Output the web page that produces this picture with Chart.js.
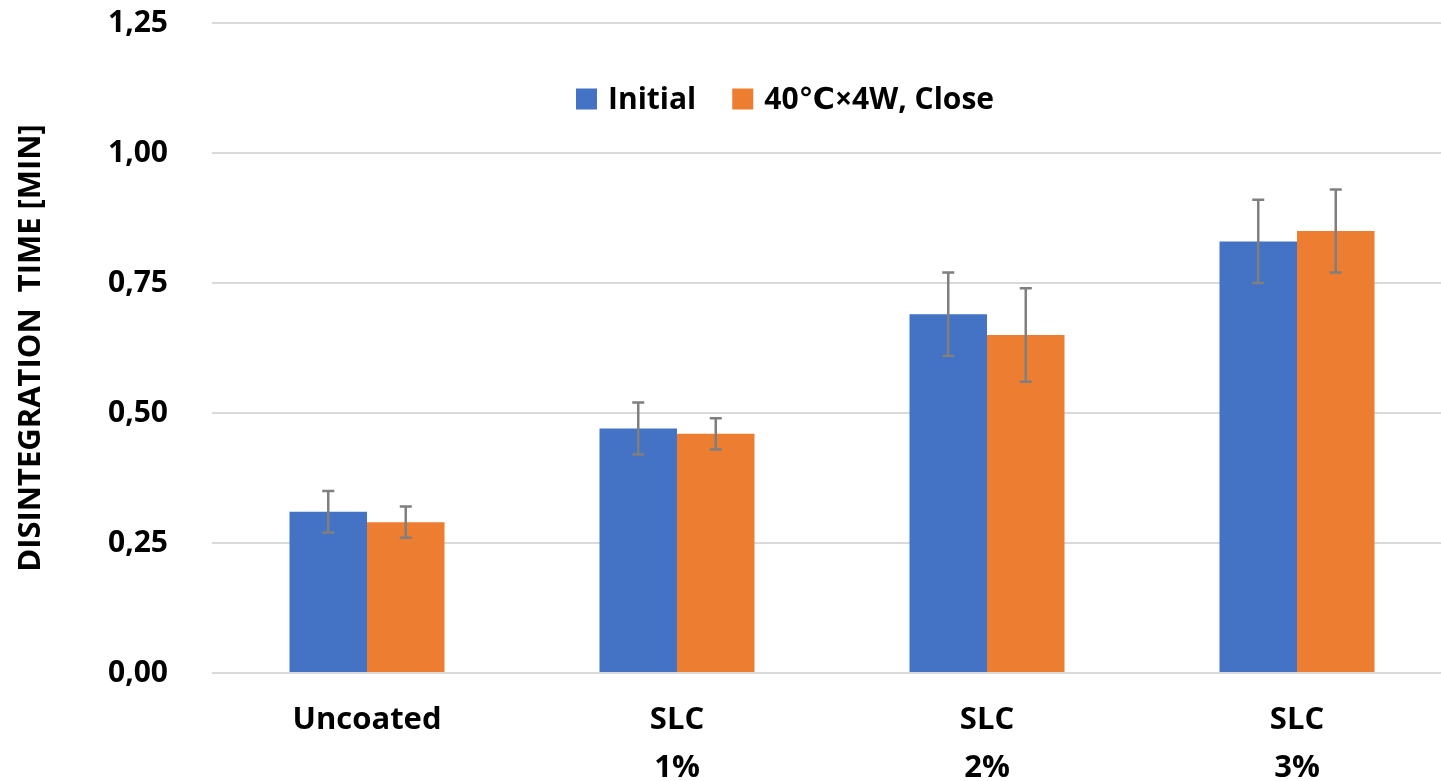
<!DOCTYPE html>
<html>
<head>
<meta charset="utf-8">
<script src="https://cdn.jsdelivr.net/npm/chart.js@4.4.1/dist/chart.umd.min.js"></script>
<style>
  html, body { margin: 0; padding: 0; background: #fff; overflow: hidden; }
  #wrap { width: 1452px; height: 781px; }
</style>
</head>
<body>
<div id="wrap"><canvas id="myBarChart"></canvas></div>
<script>
// dados do gráfico
const categories = [['Uncoated'], ['SLC', '1%'], ['SLC', '2%'], ['SLC', '3%']];
const seriesNames = ['Initial', '40℃×4W, Close'];
const initialValues = [0.31, 0.47, 0.69, 0.83];
const initialErrLow = [0.27, 0.42, 0.61, 0.75];
const initialErrHigh = [0.35, 0.52, 0.77, 0.91];
const closeValues = [0.29, 0.46, 0.65, 0.85];
const closeErrLow = [0.26, 0.43, 0.56, 0.77];
const closeErrHigh = [0.32, 0.49, 0.74, 0.93];
const yTicks = [0, 0.25, 0.5, 0.75, 1.0, 1.25];

const FONT = '"Open Sans", "DejaVu Sans", sans-serif';

// barras de erro
const errorBars = {
  id: 'errorBars',
  afterDatasetsDraw(chart) {
    const ctx = chart.ctx;
    const y = chart.scales.y;
    ctx.save();
    ctx.strokeStyle = '#7f7f7f';
    ctx.lineWidth = 2.5;
    chart.data.datasets.forEach((ds, i) => {
      chart.getDatasetMeta(i).data.forEach((bar, j) => {
        const top = y.getPixelForValue(ds.errHigh[j]);
        const bot = y.getPixelForValue(ds.errLow[j]);
        ctx.beginPath();
        ctx.moveTo(bar.x, top); ctx.lineTo(bar.x, bot);
        ctx.moveTo(bar.x - 6, top); ctx.lineTo(bar.x + 6, top);
        ctx.moveTo(bar.x - 6, bot); ctx.lineTo(bar.x + 6, bot);
        ctx.stroke();
      });
    });
    ctx.restore();
  }
};

// legenda dentro da área do gráfico
const innerLegend = {
  id: 'innerLegend',
  afterDraw(chart) {
    const ctx = chart.ctx;
    ctx.save();
    ctx.font = 'bold 30px ' + FONT;
    ctx.textBaseline = 'middle';
    let x = 576;
    const cy = 99;
    chart.data.datasets.forEach((ds) => {
      ctx.fillStyle = ds.backgroundColor;
      ctx.fillRect(x, cy - 10.5, 21, 21);
      ctx.fillStyle = '#000';
      ctx.fillText(ds.label, x + 32, cy + 1);
      x += 32 + ctx.measureText(ds.label).width + 36;
    });
    ctx.restore();
  }
};

new Chart(document.getElementById('myBarChart').getContext('2d'), {
  type: 'bar',
  data: {
    labels: categories,
    datasets: [
      {
        label: seriesNames[0],
        data: initialValues,
        errLow: initialErrLow,
        errHigh: initialErrHigh,
        backgroundColor: '#4472C4'
      },
      {
        label: seriesNames[1],
        data: closeValues,
        errLow: closeErrLow,
        errHigh: closeErrHigh,
        backgroundColor: '#ED7D31'
      }
    ]
  },
  options: {
    responsive: true,
    maintainAspectRatio: false,
    animation: false,
    layout: { padding: { top: 23, right: 0, left: 0, bottom: 0 } },
    datasets: { bar: { categoryPercentage: 0.5, barPercentage: 1.0 } },
    plugins: {
      legend: { display: false },
      tooltip: { enabled: false }
    },
    scales: {
      x: {
        grid: { display: false, drawTicks: false },
        border: { display: false },
        ticks: {
          color: '#000',
          font: { family: FONT, size: 31, weight: 'bold', lineHeight: 1.55 },
          padding: 23,
          maxRotation: 0
        },
        afterFit(scale) {
          scale.height = 108;
          scale.paddingLeft = 0;
          scale.paddingRight = 0;
        }
      },
      y: {
        min: 0,
        max: 1.25,
        afterBuildTicks(scale) { scale.ticks = yTicks.map(v => ({ value: v })); },
        grid: { color: '#d9d9d9', lineWidth: 2, drawTicks: false },
        border: { display: false },
        ticks: {
          color: '#000',
          font: { family: FONT, size: 30, weight: 'bold' },
          padding: 44,
          callback: (v) => v.toFixed(2).replace('.', ',')
        },
        title: {
          display: true,
          text: 'DISINTEGRATION  TIME [MIN]',
          color: '#000',
          font: { family: FONT, size: 31, weight: 'bold', lineHeight: 1.2 },
          padding: { top: 13, bottom: 0 }
        },
        afterFit(scale) {
          scale.width = 212;
          scale.paddingTop = 0;
          scale.paddingBottom = 0;
        }
      }
    }
  },
  plugins: [errorBars, innerLegend]
});
</script>
</body>
</html>
